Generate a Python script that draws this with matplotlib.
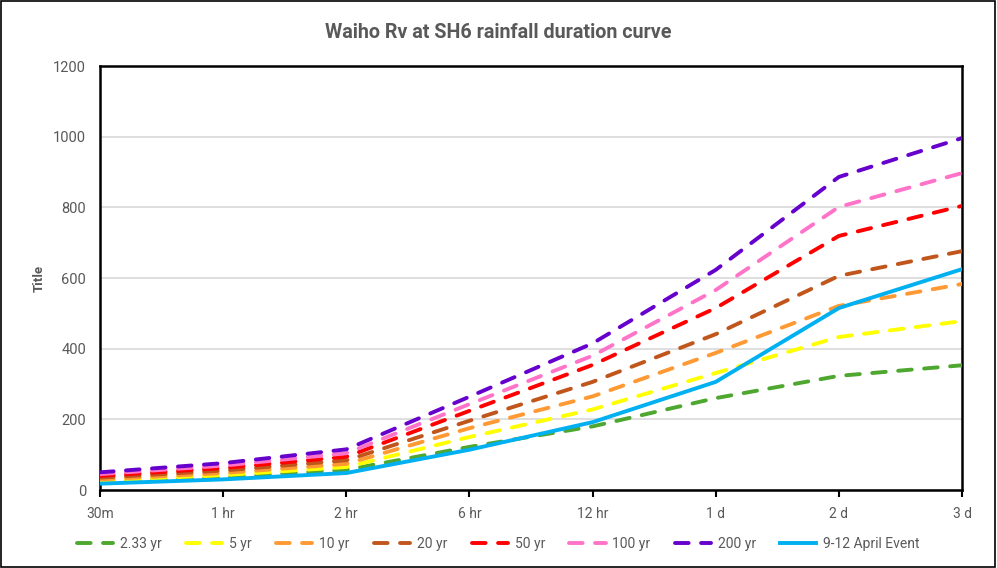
import matplotlib
matplotlib.use("Agg")
import matplotlib.pyplot as plt

durations = ["30m", "1 hr", "2 hr", "6 hr", "12 hr", "1 d", "2 d", "3 d"]

yr_2_33 = [22, 36, 57, 122, 180, 260, 323, 353]
yr_5 = [26, 42, 65, 150, 228, 331, 433, 478]
yr_10 = [30, 48, 74, 175, 265, 388, 521, 583]
yr_20 = [35, 55, 84, 196, 306, 441, 606, 676]
yr_50 = [40, 62, 94, 224, 354, 515, 719, 804]
yr_100 = [45, 69, 104, 243, 380, 566, 801, 897]
yr_200 = [50, 76, 115, 264, 415, 623, 886, 996]
april_event = [18, 30, 48, 114, 192, 306, 515, 625]

series = [
    ("2.33 yr", yr_2_33, "#4ea72e"),
    ("5 yr", yr_5, "#ffff00"),
    ("10 yr", yr_10, "#ff9933"),
    ("20 yr", yr_20, "#c0561c"),
    ("50 yr", yr_50, "#ff0000"),
    ("100 yr", yr_100, "#ff73c8"),
    ("200 yr", yr_200, "#6600cc"),
]
event_label = "9-12 April Event"
event_color = "#00b0f0"

plt.rcParams["font.family"] = ["Roboto", "DejaVu Sans"]
text_grey = "#595959"

fig = plt.figure(figsize=(9.97, 5.68), dpi=100)
ax = fig.add_axes([100 / 997, 78 / 568, 862 / 997, 424 / 568])

x = list(range(len(durations)))
handles = []
for label, vals, col in series:
    (ln,) = ax.plot(x, vals, color=col, lw=2.8, linestyle=(0, (3.5, 3.2)),
                    dash_capstyle="round", solid_capstyle="round", zorder=3)
    handles.append(ln)
(ev,) = ax.plot(x, april_event, color=event_color, lw=2.8, zorder=4,
                solid_joinstyle="round")
handles.append(ev)

ax.set_xlim(0, len(durations) - 1)
ax.set_ylim(0, 1200)
ax.set_yticks(range(0, 1201, 200))
ax.set_xticks(x)
ax.set_xticklabels(durations)
ax.grid(axis="y", color="#d9d9d9", lw=1.2, zorder=0)
ax.set_axisbelow(True)
for sp in ax.spines.values():
    sp.set_color("black")
    sp.set_linewidth(1.8)
ax.tick_params(axis="y", length=0, pad=10, labelsize=10.5, labelcolor=text_grey)
ax.tick_params(axis="x", length=5, width=1.5, direction="out", pad=7,
               labelsize=10, labelcolor=text_grey)

ax.set_ylabel("Title", fontsize=9.5, fontweight="bold", color=text_grey, labelpad=5)

fig.text(0.5, 1 - 32 / 568, "Waiho Rv at SH6 rainfall duration curve", ha="center",
         va="center", fontsize=14.2, fontweight="bold", color=text_grey)

labels = [s[0] for s in series] + [event_label]
fig.legend(handles, labels, loc="center", bbox_to_anchor=(0.5, 1 - 544 / 568),
           ncol=8, frameon=False, fontsize=10, handlelength=2.6,
           columnspacing=1.75, handletextpad=0.5, labelcolor=text_grey)

# outer chart border
fig.add_artist(plt.Rectangle((0.001, 0.002), 0.997, 0.996, transform=fig.transFigure,
                             fill=False, edgecolor="black", lw=1.2))

fig.savefig("out.png", dpi=100)
